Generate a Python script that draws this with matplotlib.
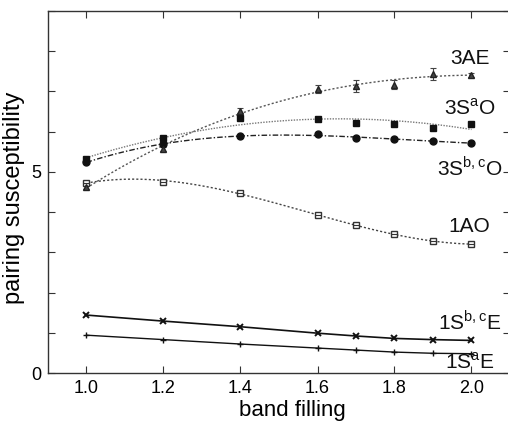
import numpy as np
import matplotlib
matplotlib.use("Agg")
import matplotlib.pyplot as plt

plt.rcParams['font.family'] = ['Liberation Sans', 'DejaVu Sans']
plt.rcParams['mathtext.fontset'] = 'custom'
plt.rcParams['mathtext.rm'] = 'Liberation Sans'

filling = [1.0, 1.2, 1.4, 1.6, 1.7, 1.8, 1.9, 2.0]
s3AE = [4.63, 5.57, 6.52, 7.06, 7.14, 7.17, 7.44, 7.41]
s3AE_err = [0.05, 0.05, 0.06, 0.10, 0.15, 0.12, 0.15, 0.04]
s3SaO = [5.31, 5.85, 6.33, 6.32, 6.22, 6.20, 6.10, 6.19]
s3SbcO = [5.24, 5.69, 5.89, 5.93, 5.85, 5.81, 5.76, 5.72]
s1AO = [4.73, 4.76, 4.48, 3.92, 3.67, 3.45, 3.27, 3.21]
s1SbcE = [1.44, 1.29, 1.15, 0.99, 0.92, 0.86, 0.83, 0.81]
s1SaE = [0.94, 0.83, 0.72, 0.62, 0.57, 0.52, 0.49, 0.48]

labels = ['3AE', r'3S$^{\rm a}$O', r'3S$^{\rm b,c}$O', '1AO', r'1S$^{\rm b,c}$E', r'1S$^{\rm a}$E']
label_y = [7.81, 6.59, 5.10, 3.63, 1.27, 0.26]
yticks = [0, 1, 2, 3, 4, 5, 6, 7, 8, 9]
ytick_labels = ['0', '', '', '', '', '5', '', '', '', '']
xticks = [1.0, 1.2, 1.4, 1.6, 1.8, 2.0]

fig = plt.figure(figsize=(5.08, 4.23), dpi=100)
ax = fig.add_axes([48/508, 50/423, 462/508, 362/423])

x = np.array(filling)
xf = np.linspace(1.0, 2.0, 200)

def fit(y, deg):
    return np.polyval(np.polyfit(x, np.array(y), deg), xf)

# 3AE
ax.plot(xf, fit(s3AE, 3), color='#555555', lw=1.0, ls=(0, (1.5, 1.5)))
ax.errorbar(x, s3AE, yerr=s3AE_err, fmt='^', color='#444444', ms=4,
            mec='#222222', capsize=2, elinewidth=0.8, capthick=0.8)
# 3SaO
ax.plot(xf, fit(s3SaO, 2), color='#777777', lw=1.0, ls=(0, (1, 1)))
ax.plot(x, s3SaO, 's', color='#111111', ms=5)
# 3SbcO
ax.plot(xf, fit(s3SbcO, 3), color='#222222', lw=1.0, ls=(0, (4, 1.5, 1, 1.5)))
ax.plot(x, s3SbcO, 'o', color='#111111', ms=5)
# 1AO
ax.plot(xf, fit(s1AO, 3), color='#444444', lw=1.0, ls=(0, (1.5, 1.5)))
ax.plot(x, s1AO, 's', mfc='white', mec='#333333', ms=5, mew=1.0)
ax.plot(x, s1AO, '_', color='#333333', ms=4, mew=0.8)
# 1SbcE
ax.plot(x, s1SbcE, '-', color='#111111', lw=1.2)
ax.plot(x, s1SbcE, 'x', color='#111111', ms=5, mew=1.4)
# 1SaE
ax.plot(x, s1SaE, '-', color='#111111', lw=1.0)
ax.plot(x, s1SaE, '+', color='#111111', ms=5, mew=1.0)

for lab, ly in zip(labels, label_y):
    ax.text(1.995, ly, lab, ha='center', va='center', fontsize=15, color='#111111')

ax.set_xlim(0.9, 2.1)
ax.set_ylim(0, 9)
ax.set_xticks(xticks)
ax.set_xticklabels(['%.1f' % v for v in xticks])
ax.set_yticks(yticks)
ax.set_yticklabels(ytick_labels)
ax.tick_params(direction='in', top=True, right=True, labelsize=13, length=5,
               width=0.8, pad=5, color='#333333')
for sp in ax.spines.values():
    sp.set_linewidth(1.0)
    sp.set_color('#333333')

ax.set_xlabel('band filling', fontsize=16)
ax.set_ylabel('pairing susceptibility', fontsize=17)
ax.xaxis.set_label_coords(0.53, -0.075)
ax.yaxis.set_label_coords(-0.05, 0.485)

fig.savefig('out.png', dpi=100)
